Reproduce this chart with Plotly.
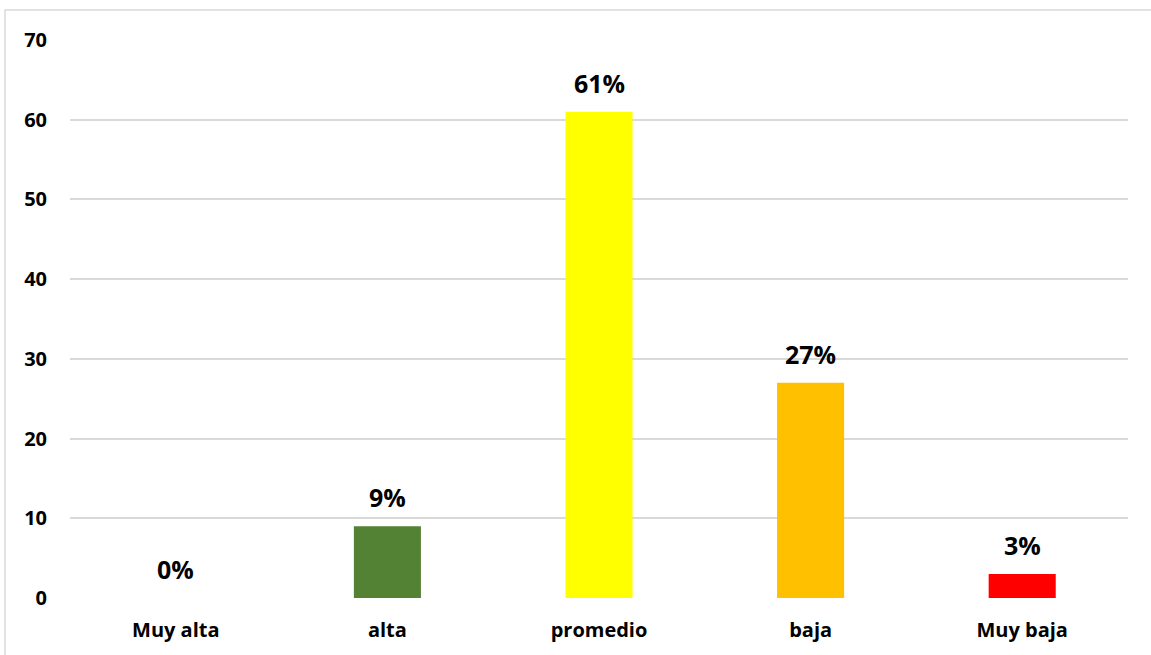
import plotly.graph_objects as go

categories = ["Muy alta", "alta", "promedio", "baja", "Muy baja"]
values = [0, 9, 61, 27, 3]
labels = ["0%", "9%", "61%", "27%", "3%"]
colors = ["#548235", "#548235", "#FFFF00", "#FFC000", "#FF0000"]
y_ticks = [0, 10, 20, 30, 40, 50, 60, 70]

W, H = 1151, 655
L, R, T, B = 70, 23, 40, 55
pw, ph = W - L - R, H - T - B

def px_x(p):
    return (p - L) / pw

def px_y(p):
    return (H - B - p) / ph

fig = go.Figure(go.Bar(
    x=categories, y=values, marker_color=colors, marker_line_width=0,
    hoverinfo="x+y",
))

for c, v, t in zip(categories, values, labels):
    fig.add_annotation(x=c, y=v, text=t, showarrow=False, yanchor="bottom",
                       yshift=10,
                       font=dict(family="Open Sans", size=25, color="#000000", weight="bold"))

fig.update_layout(
    width=W, height=H, margin=dict(l=L, r=R, t=T, b=B),
    paper_bgcolor="white", plot_bgcolor="white", showlegend=False,
    bargap=0.683,
    font=dict(family="Open Sans", color="#000000"),
    xaxis=dict(showgrid=False, showline=False, zeroline=False, ticks="",
               tickfont=dict(size=20, weight="bold", family="Open Sans"),
               ticklabelstandoff=18),
    yaxis=dict(range=[0, 70], tickvals=y_ticks, showgrid=True, gridcolor="#D9D9D9",
               gridwidth=1.5, zeroline=False, showline=False, ticks="",
               tickfont=dict(size=20, weight="bold", family="Open Sans"),
               ticklabelstandoff=22),
    shapes=[dict(type="rect", xref="paper", yref="paper",
                 x0=px_x(5), x1=px_x(1200), y0=px_y(700), y1=px_y(10),
                 line=dict(color="#D9D9D9", width=1.5), fillcolor="rgba(0,0,0,0)",
                 layer="below")],
)

fig.write_html("out.html", config={"displayModeBar": False},
               post_script="document.body.style.margin='0px';document.body.style.overflow='hidden';")
